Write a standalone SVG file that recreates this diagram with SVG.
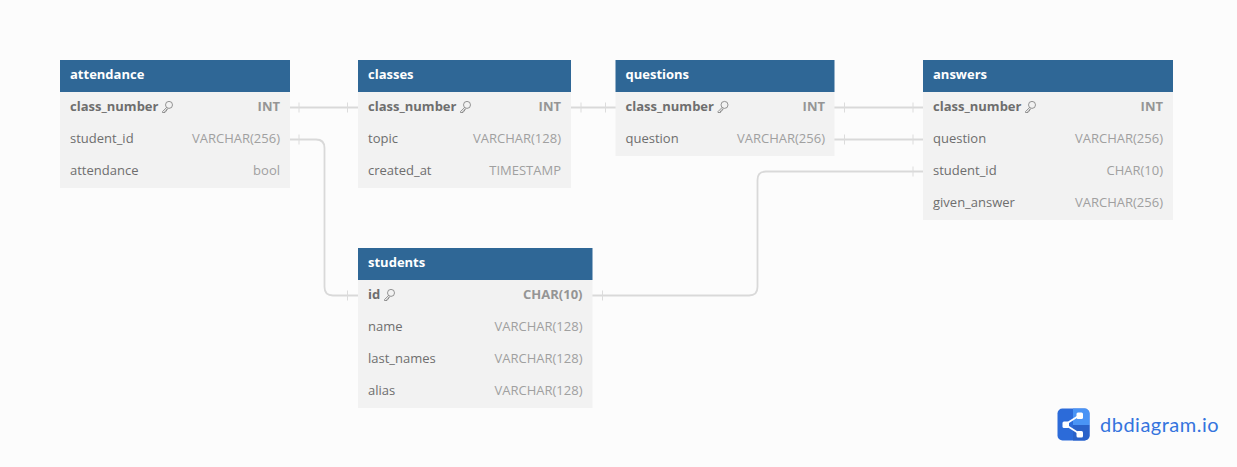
<svg xmlns="http://www.w3.org/2000/svg" width="1237" height="467" viewBox="0 0 1237 467">
<style>
text{font-family:"Open Sans","DejaVu Sans",sans-serif;font-size:13px}
.hd{fill:#2f6796}.bd{fill:#f2f2f2}
.t{fill:#fff;font-weight:700}
.n{fill:#6e6e6e}.b{font-weight:700}
.ty{fill:#a0a0a0;text-anchor:end}
.ty.b{fill:#959595}
.c{fill:none;stroke:#d9d9d9;stroke-width:1.8}
.tk{fill:none;stroke:#dcdcdc;stroke-width:1}
.k{fill:none;stroke:#7a7a7a;stroke-width:.8}
</style>
<defs>
<g id="key"><circle cx="7" cy="3.900" r="3.500" class="k"/><path d="M4.600 6.500 L0.500 10.600 L0.500 11.500 L3 11.500 L3 10 L4.500 10 L4.500 8.500 L6 8" class="k"/></g>
</defs>
<rect width="1237" height="467" fill="#fcfcfc"/>
<g id="connectors">
<path class="c" d="M290 107.500H358"/>
<path class="tk" d="M299 102.500V112.500M347.500 102.500V112.500"/>
<path class="c" d="M571 107.500H616"/>
<path class="tk" d="M581 102.500V112.500M605.500 102.500V112.500"/>
<path class="c" d="M834 107.500H923"/>
<path class="tk" d="M844.500 102.500V112.500M913 102.500V112.500"/>
<path class="c" d="M834 139.500H923"/>
<path class="tk" d="M844.500 134.500V144.500M913 134.500V144.500"/>
<path class="c" d="M290 139.500H316Q324.500 139.500 324.500 148V287Q324.500 295.500 333 295.500H358"/>
<path class="tk" d="M299 134.500V144.500M347.500 290.500V300.500"/>
<path class="c" d="M592 295.500H749Q757.500 295.500 757.500 287V180Q757.500 171.500 766 171.500H923"/>
<path class="tk" d="M602.500 290.500V300.500M913 166.500V176.500"/>
</g>
<g id="attendance">
<rect class="bd" x="60" y="92" width="230" height="96"/><rect class="hd" x="60" y="60" width="230" height="32"/>
<text class="t" x="70" y="79">attendance</text>
<text class="n b" x="70" y="111">class_number</text><use href="#key" x="162" y="101"/><text class="ty b" x="280" y="111">INT</text>
<text class="n" x="70" y="143">student_id</text><text class="ty" x="280" y="143">VARCHAR(256)</text>
<text class="n" x="70" y="175">attendance</text><text class="ty" x="280" y="175">bool</text>
</g>
<g id="classes">
<rect class="bd" x="358" y="92" width="213" height="96"/><rect class="hd" x="358" y="60" width="213" height="32"/>
<text class="t" x="368" y="79">classes</text>
<text class="n b" x="368" y="111">class_number</text><use href="#key" x="460" y="101"/><text class="ty b" x="561" y="111">INT</text>
<text class="n" x="368" y="143">topic</text><text class="ty" x="561" y="143">VARCHAR(128)</text>
<text class="n" x="368" y="175">created_at</text><text class="ty" x="561" y="175">TIMESTAMP</text>
</g>
<g id="questions">
<rect class="bd" x="615.500" y="92" width="219" height="64"/><rect class="hd" x="615.500" y="60" width="219" height="32"/>
<text class="t" x="625.500" y="79">questions</text>
<text class="n b" x="625.500" y="111">class_number</text><use href="#key" x="717.500" y="101"/><text class="ty b" x="825" y="111">INT</text>
<text class="n" x="625.500" y="143">question</text><text class="ty" x="825" y="143">VARCHAR(256)</text>
</g>
<g id="answers">
<rect class="bd" x="923" y="92" width="250" height="128"/><rect class="hd" x="923" y="60" width="250" height="32"/>
<text class="t" x="933" y="79">answers</text>
<text class="n b" x="933" y="111">class_number</text><use href="#key" x="1025" y="101"/><text class="ty b" x="1163" y="111">INT</text>
<text class="n" x="933" y="143">question</text><text class="ty" x="1163" y="143">VARCHAR(256)</text>
<text class="n" x="933" y="175">student_id</text><text class="ty" x="1163" y="175">CHAR(10)</text>
<text class="n" x="933" y="207">given_answer</text><text class="ty" x="1163" y="207">VARCHAR(256)</text>
</g>
<g id="students">
<rect class="bd" x="358" y="280" width="234.500" height="128"/><rect class="hd" x="358" y="248" width="234.500" height="32"/>
<text class="t" x="368" y="267">students</text>
<text class="n b" x="368" y="299">id</text><use href="#key" x="384" y="289"/><text class="ty b" x="582.500" y="299">CHAR(10)</text>
<text class="n" x="368" y="331">name</text><text class="ty" x="582.500" y="331">VARCHAR(128)</text>
<text class="n" x="368" y="363">last_names</text><text class="ty" x="582.500" y="363">VARCHAR(128)</text>
<text class="n" x="368" y="395">alias</text><text class="ty" x="582.500" y="395">VARCHAR(128)</text>
</g>
<g id="logo">
<rect x="1057.500" y="408.500" width="32" height="32" rx="5" fill="#2c6bd9"/>
<path d="M1073 408.500H1084.500A5 5 0 0 1 1089.500 413.500V425H1073Z" fill="#4a94f5"/>
<path d="M1073 425H1089.500V435.500A5 5 0 0 1 1084.500 440.500H1073Z" fill="#2a62c9"/>
<path d="M1065 424.500L1080 415M1065 424.500L1080 434" stroke="#fff" stroke-width="1.800" fill="none"/>
<rect x="1062.500" y="421.500" width="6.500" height="6.500" rx="1.500" fill="#fff"/>
<rect x="1076.500" y="412.500" width="6.500" height="6.500" rx="1.500" fill="#fff"/>
<rect x="1076.500" y="431" width="6.500" height="6.500" rx="1.500" fill="#fff"/>
<text x="1100" y="432" style="font-family:Lato,sans-serif;font-size:20px;letter-spacing:.5px" fill="#3574de">dbdiagram.io</text>
</g>
</svg>
